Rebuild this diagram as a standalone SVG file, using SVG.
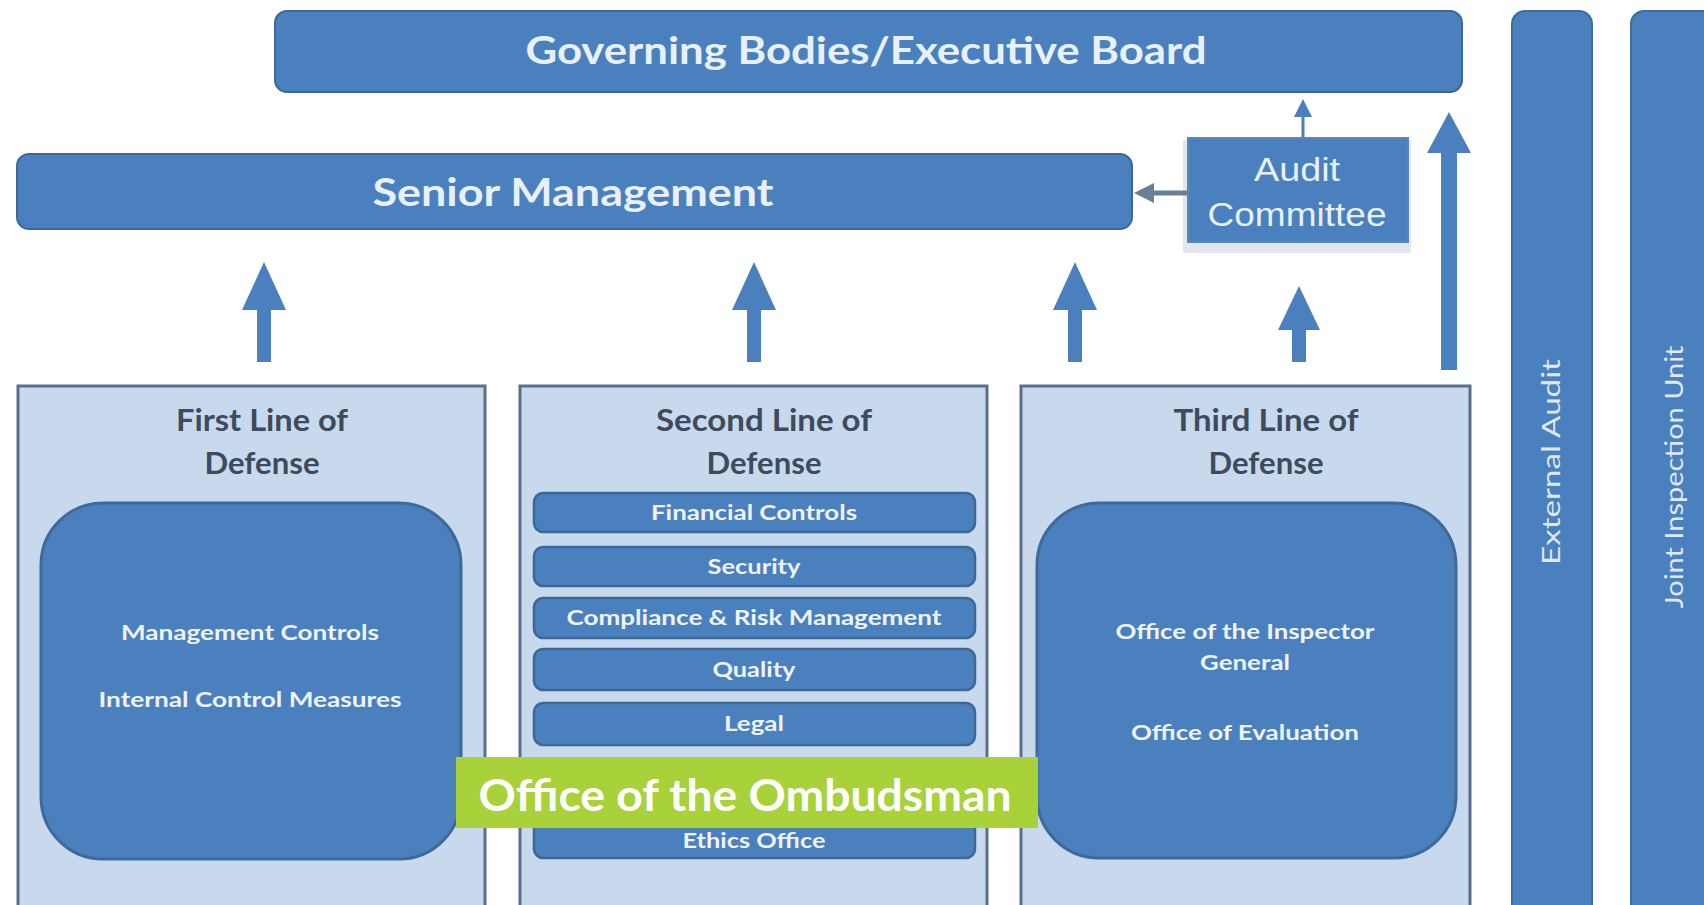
<svg xmlns="http://www.w3.org/2000/svg" width="1704" height="905" viewBox="0 0 1704 905">
  <defs>
    <style>
      .bar { fill: #4a80bd; stroke: #3c6796; stroke-width: 2; }
      .panel { fill: #c8d9ee; stroke: #5a6f8c; stroke-width: 3; }
      .inner { fill: #4a80bd; stroke: #3d6a9a; stroke-width: 3; }
      .item { fill: #4a80bd; stroke: #3c6796; stroke-width: 2.5; }
      .side { fill: #4a80bd; stroke: #3f6d9f; stroke-width: 2; }
      .head { font-family: Lato, "Liberation Sans", sans-serif; font-weight: bold; fill: #e8f0f9; text-anchor: middle; }
      .title { font-family: Lato, "Liberation Sans", sans-serif; font-weight: bold; fill: #3d4b5c; text-anchor: middle; font-size: 31px; }
      .label { font-family: Lato, "Liberation Sans", sans-serif; font-weight: bold; fill: #eef3fa; text-anchor: middle; font-size: 21px; }
      .audit { font-family: "Liberation Sans", Arial, sans-serif; fill: #e8f0f9; text-anchor: middle; font-size: 33px; }
      .vert { font-family: Lato, "Liberation Sans", sans-serif; fill: #dfe8f3; text-anchor: middle; font-size: 25px; }
      .arrow { fill: #4a80bd; }
    </style>
    <marker id="tipBlue" markerWidth="6" markerHeight="6" refX="3" refY="3" orient="auto" markerUnits="strokeWidth">
      <path d="M0,0 L6,3 L0,6 Z" fill="#4a7fbb"/>
    </marker>
    <marker id="tipGrey" markerWidth="4" markerHeight="4" refX="2" refY="2" orient="auto" markerUnits="strokeWidth">
      <path d="M0,0 L4,2 L0,4 Z" fill="#6a7f96"/>
    </marker>
  </defs>

  <rect width="1704" height="905" fill="#ffffff"/>

  <!-- Top tier -->
  <g id="governing-bodies">
    <rect class="bar" x="275" y="11" width="1187" height="81" rx="12"/>
    <text class="head" x="866" y="64" font-size="38" textLength="681" lengthAdjust="spacingAndGlyphs">Governing Bodies/Executive Board</text>
  </g>

  <g id="senior-management">
    <rect class="bar" x="17" y="154" width="1115" height="75" rx="12"/>
    <text class="head" x="573" y="206" font-size="39" textLength="401" lengthAdjust="spacingAndGlyphs">Senior Management</text>
  </g>

  <g id="audit-committee">
    <rect x="1183" y="140" width="228" height="113" fill="#e3e6ea"/>
    <rect x="1188" y="138" width="220" height="104" fill="#4a80bd" stroke="#5a86b8" stroke-width="2"/>
    <text class="audit" x="1297" y="181" textLength="86" lengthAdjust="spacingAndGlyphs">Audit</text>
    <text class="audit" x="1297" y="226" textLength="179" lengthAdjust="spacingAndGlyphs">Committee</text>
  </g>

  <!-- Side bodies -->
  <g id="external-audit">
    <rect class="side" x="1512" y="11" width="80" height="920" rx="13"/>
    <text class="vert" transform="translate(1560 462) rotate(-90)" x="0" y="0" textLength="206" lengthAdjust="spacingAndGlyphs">External Audit</text>
  </g>

  <g id="joint-inspection-unit">
    <rect class="side" x="1631" y="11" width="90" height="920" rx="13"/>
    <text class="vert" transform="translate(1683 477) rotate(-90)" x="0" y="0" textLength="263" lengthAdjust="spacingAndGlyphs">Joint Inspection Unit</text>
  </g>

  <!-- First line -->
  <g id="first-line">
    <rect class="panel" x="18" y="386" width="467" height="540"/>
    <text class="title" x="262" y="431" textLength="172" lengthAdjust="spacingAndGlyphs">First Line of</text>
    <text class="title" x="262" y="474" textLength="115" lengthAdjust="spacingAndGlyphs">Defense</text>
    <rect class="inner" x="41" y="503" width="420" height="356" rx="62"/>
    <text class="label" x="250" y="640" textLength="258" lengthAdjust="spacingAndGlyphs">Management Controls</text>
    <text class="label" x="250" y="707" textLength="303" lengthAdjust="spacingAndGlyphs">Internal Control Measures</text>
  </g>

  <!-- Second line -->
  <g id="second-line">
    <rect class="panel" x="520" y="386" width="467" height="540"/>
    <text class="title" x="764" y="431" textLength="216" lengthAdjust="spacingAndGlyphs">Second Line of</text>
    <text class="title" x="764" y="474" textLength="115" lengthAdjust="spacingAndGlyphs">Defense</text>

    <rect class="item" x="534" y="493" width="441" height="39" rx="9"/>
    <text class="label" x="754" y="520" textLength="206" lengthAdjust="spacingAndGlyphs">Financial Controls</text>

    <rect class="item" x="534" y="547" width="441" height="39" rx="9"/>
    <text class="label" x="754" y="574" textLength="93" lengthAdjust="spacingAndGlyphs">Security</text>

    <rect class="item" x="534" y="598" width="441" height="40" rx="9"/>
    <text class="label" x="754" y="625" textLength="375" lengthAdjust="spacingAndGlyphs">Compliance &amp; Risk Management</text>

    <rect class="item" x="534" y="649" width="441" height="41" rx="9"/>
    <text class="label" x="754" y="677" textLength="83" lengthAdjust="spacingAndGlyphs">Quality</text>

    <rect class="item" x="534" y="703" width="441" height="42" rx="9"/>
    <text class="label" x="754" y="731" textLength="60" lengthAdjust="spacingAndGlyphs">Legal</text>

    <rect class="item" x="534" y="812" width="441" height="46" rx="9"/>
    <text class="label" x="754" y="848" textLength="143" lengthAdjust="spacingAndGlyphs">Ethics Office</text>
  </g>

  <!-- Third line -->
  <g id="third-line">
    <rect class="panel" x="1021" y="386" width="449" height="540"/>
    <text class="title" x="1266" y="431" textLength="185" lengthAdjust="spacingAndGlyphs">Third Line of</text>
    <text class="title" x="1266" y="474" textLength="115" lengthAdjust="spacingAndGlyphs">Defense</text>
    <rect class="inner" x="1037" y="503" width="419" height="355" rx="62"/>
    <text class="label" x="1245" y="639" textLength="259" lengthAdjust="spacingAndGlyphs">Office of the Inspector</text>
    <text class="label" x="1245" y="670" textLength="90" lengthAdjust="spacingAndGlyphs">General</text>
    <text class="label" x="1245" y="740" textLength="228" lengthAdjust="spacingAndGlyphs">Office of Evaluation</text>
  </g>

  <!-- Arrows -->
  <g id="connectors">
    <polygon class="arrow" points="264,262 286,310 271,310 271,362 257,362 257,310 242,310"/>
    <polygon class="arrow" points="754,262 776,310 761,310 761,362 747,362 747,310 732,310"/>
    <polygon class="arrow" points="1075,262 1097,310 1082,310 1082,362 1068,362 1068,310 1053,310"/>
    <polygon class="arrow" points="1299,286 1320,330 1306,330 1306,362 1292,362 1292,330 1278,330"/>
    <polygon class="arrow" points="1449,112 1471,153 1457,153 1457,370 1441,370 1441,153 1427,153"/>
    <line x1="1303" y1="138" x2="1303" y2="108" stroke="#4a7fbb" stroke-width="3" marker-end="url(#tipBlue)"/>
    <line x1="1187" y1="193" x2="1144" y2="193" stroke="#6a7f96" stroke-width="5" marker-end="url(#tipGrey)"/>
  </g>

  <!-- Highlight banner -->
  <g id="ombudsman-banner">
    <rect x="456" y="757" width="582" height="71" fill="#a9d13a"/>
    <text x="745" y="811" font-family="Lato, 'Liberation Sans', sans-serif" font-weight="bold" font-size="44" fill="#ffffff" text-anchor="middle" textLength="533" lengthAdjust="spacingAndGlyphs">Office of the Ombudsman</text>
  </g>
</svg>
